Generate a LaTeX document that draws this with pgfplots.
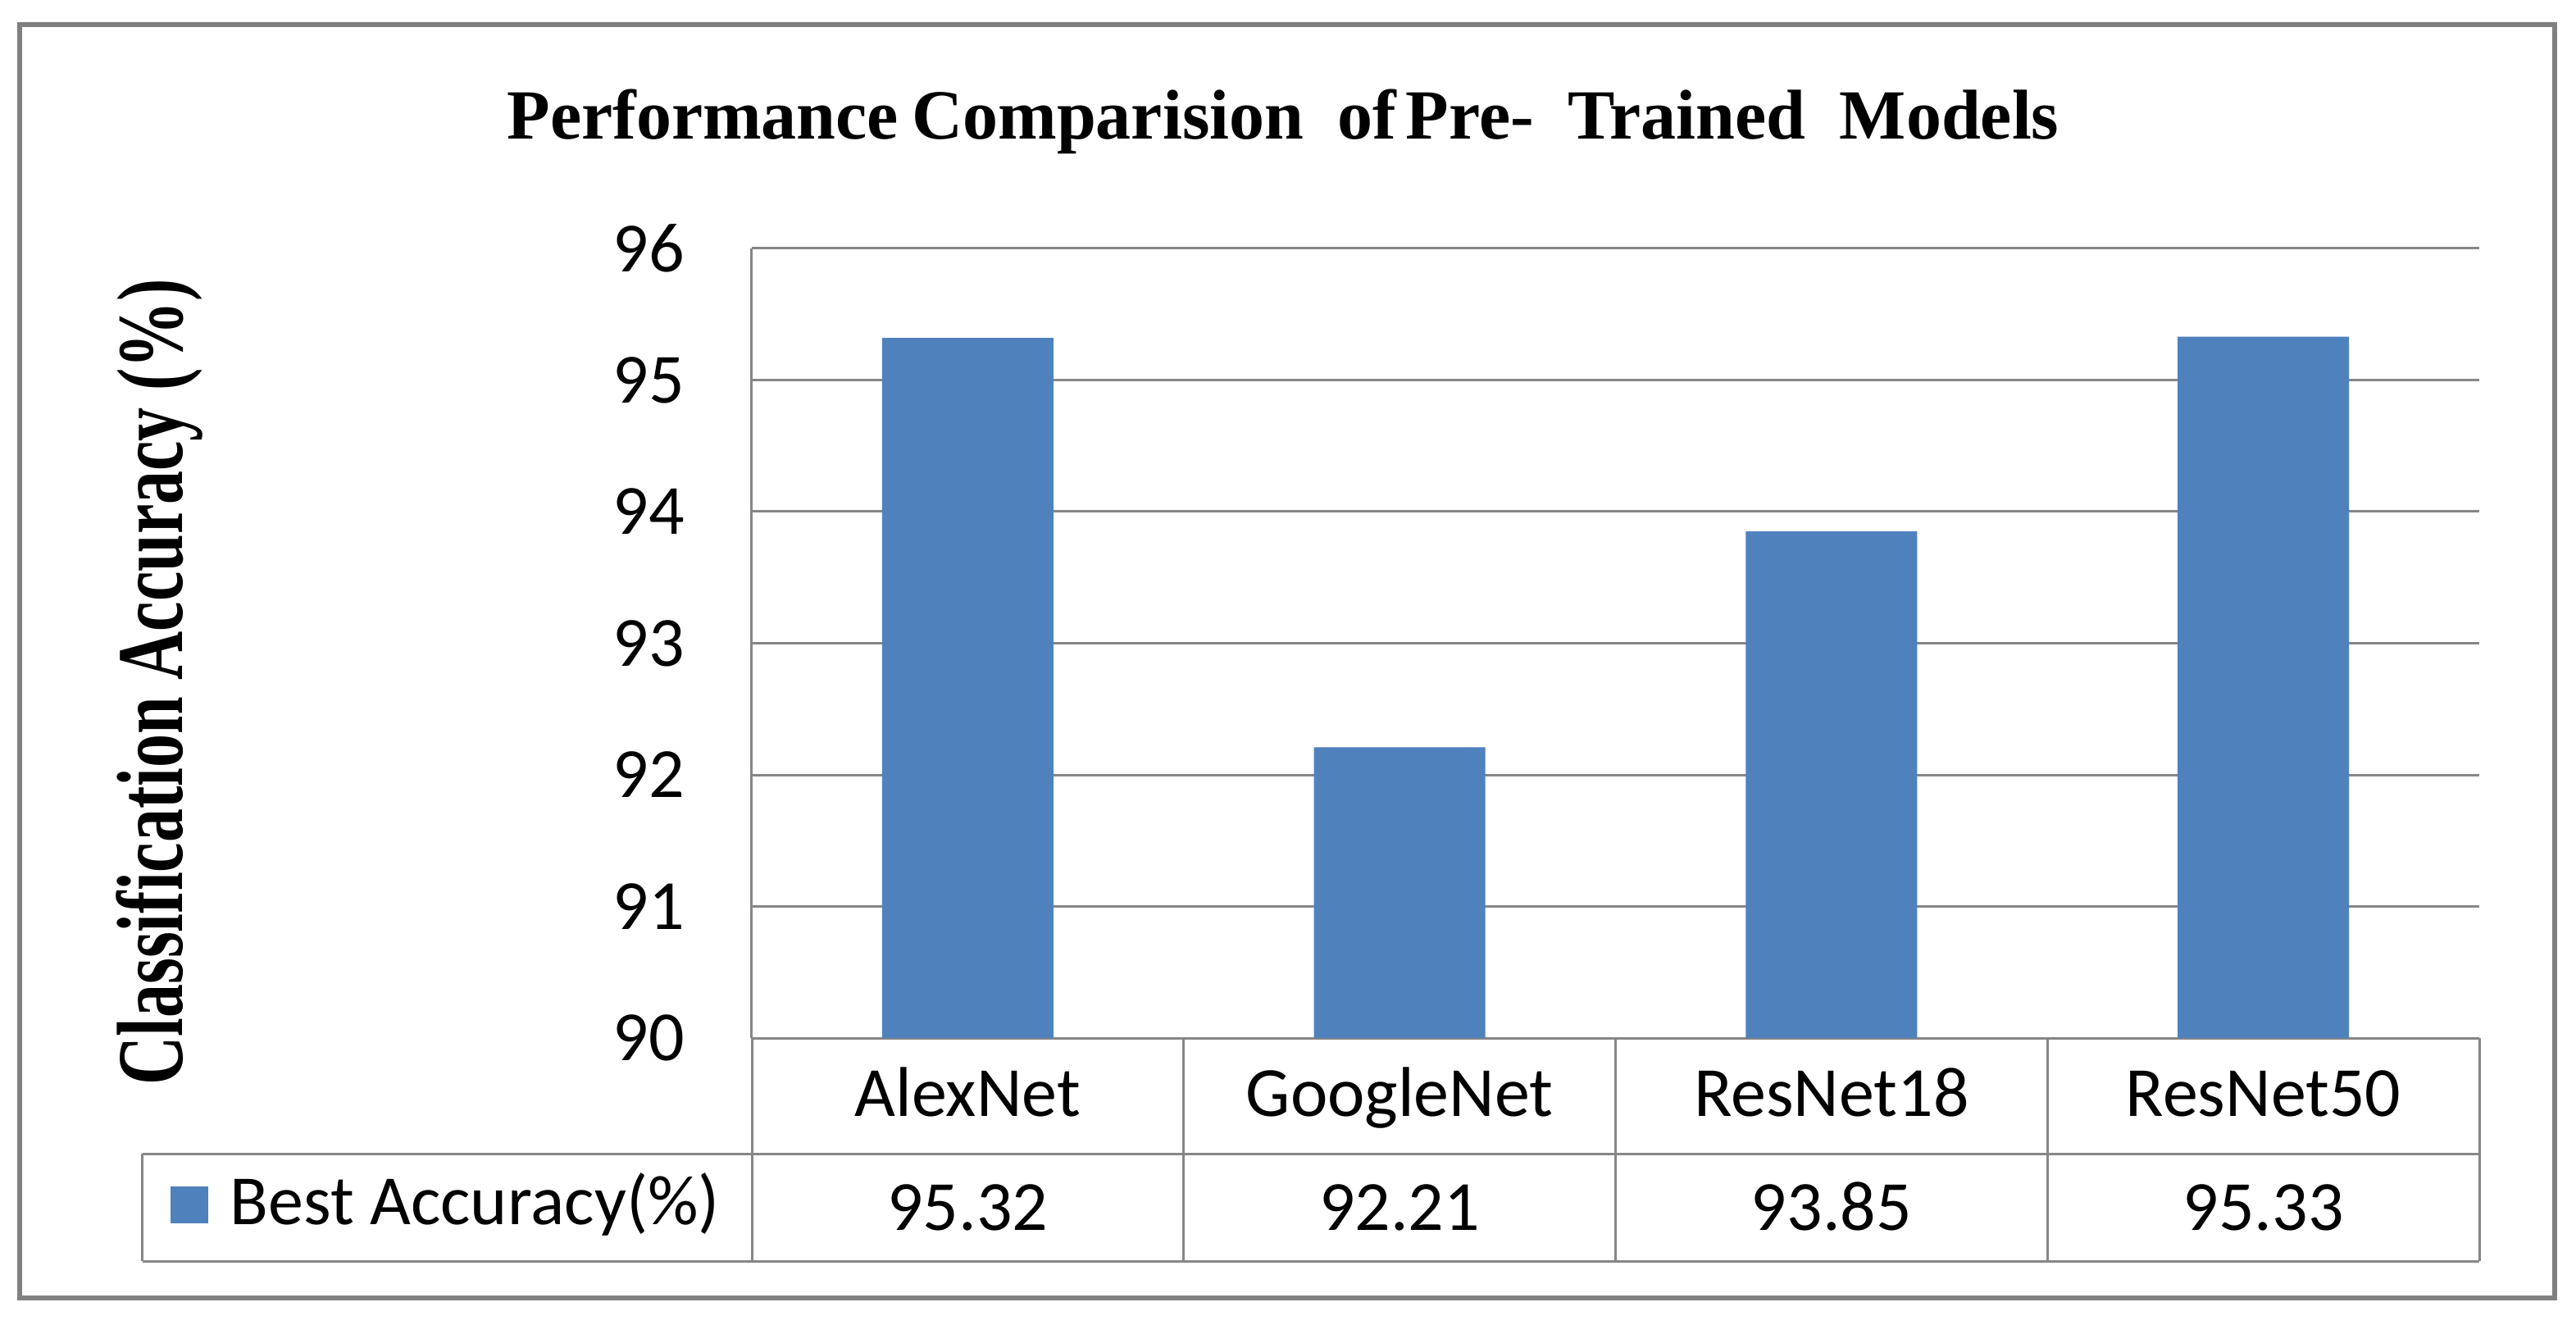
\documentclass[border=0pt]{standalone}
\usepackage{fontspec}
\setmainfont{Carlito}
\newfontfamily\tnr{Liberation Serif}
\usepackage{pgfplots}
\pgfplotsset{compat=1.18}
\definecolor{barblue}{RGB}{79,129,189}
\definecolor{gridgray}{RGB}{134,134,134}
\definecolor{framegray}{RGB}{128,128,128}
\begin{document}
\begin{tikzpicture}
\useasboundingbox (0,0) rectangle (314.2pt,161.5pt);
\fill[white] (0,0) rectangle (314.2pt,161.5pt);
\draw[framegray, line width=0.6pt] (2.4pt,3.2pt) rectangle (311.6pt,158.5pt);
\begin{axis}[
  at={(91.7pt,34.9pt)}, anchor=south west,
  scale only axis, width=210.7pt, height=96.3pt,
  xmin=-0.5, xmax=3.5, ymin=90, ymax=96,
  ytick={90,91,92,93,94,95,96},
  xtick={0,1,2,3},
  xticklabels={AlexNet,GoogleNet,ResNet18,ResNet50},
  axis lines*=left,
  axis line style={gridgray, line width=0.3pt},
  ymajorgrids, grid style={gridgray, line width=0.3pt},
  major tick length=0pt,
  tick style={draw=none},
  clip=false,
  /pgf/number format/assume math mode=true,
  tick label style={font=\fontsize{8.6}{10}\selectfont},
  yticklabel style={anchor=east, inner sep=0pt, xshift=-8pt},
  xticklabel style={anchor=base, inner sep=0pt, yshift=-9.5pt},
  title={Performance\hspace{-0.5pt} Comparision\hspace{2pt} of\hspace{-1pt} Pre-\hspace{2pt} Trained\hspace{2pt} Models},
  title style={at={(axis description cs:0.3075,1.098)}, anchor=center, inner sep=0pt, font=\tnr\bfseries\fontsize{8.6}{10}\selectfont},
  ylabel={Classification Accuracy (\%)},
  ylabel style={at={(axis description cs:-0.343,0.4507)}, anchor=center, inner sep=0pt, font=\tnr\bfseries\fontsize{8.2}{10}\selectfont, yscale=1.4},
  legend cell align=left,
  legend style={at={(axis description cs:-0.3365,-0.2118)}, anchor=west, draw=none, fill=none, inner sep=0pt, outer sep=0pt, column sep=2.7pt, nodes={inner sep=0pt, font=\fontsize{8.6}{10}\selectfont}},
]
\addplot[ybar, bar width=20.9pt, fill=barblue, draw=none,
  legend image code/.code={\fill[barblue] (0pt,-2.25pt) rectangle (4.6pt,2.25pt);}]
  coordinates {(0,95.32) (1,92.21) (2,93.85) (3,95.33)};
\addlegendentry{Best Accuracy(\%)}
\addplot[draw=none, mark=none, forget plot, point meta=explicit symbolic,
  nodes near coords,
  nodes near coords style={anchor=base, inner sep=0pt, font=\fontsize{8.6}{10}\selectfont}]
  coordinates {(0,88.542)[95.32] (1,88.542)[92.21] (2,88.542)[93.85] (3,88.542)[95.33]};
\end{axis}
\begin{scope}[gridgray, line width=0.3pt]
\draw (17.4pt,20.8pt) -- (302.4pt,20.8pt);
\draw (17.4pt,7.7pt) -- (302.4pt,7.7pt);
\draw (17.4pt,7.7pt) -- (17.4pt,20.8pt);
\draw (91.7pt,7.7pt) -- (91.7pt,34.9pt);
\draw (144.375pt,7.7pt) -- (144.375pt,34.9pt);
\draw (197.05pt,7.7pt) -- (197.05pt,34.9pt);
\draw (249.725pt,7.7pt) -- (249.725pt,34.9pt);
\draw (302.4pt,7.7pt) -- (302.4pt,34.9pt);
\end{scope}
\end{tikzpicture}
\end{document}
